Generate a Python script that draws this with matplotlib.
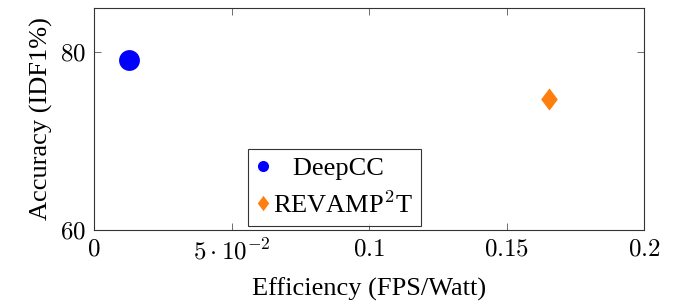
import matplotlib
matplotlib.use("Agg")
import matplotlib.pyplot as plt
from matplotlib.lines import Line2D
from matplotlib.path import Path

# data
methods = ["   DeepCC", "REVAMP$^{2}$T"]
efficiency = [0.0127, 0.1656]   # FPS/Watt
accuracy = [79.2, 74.8]         # IDF1 %
colors = ["#0000ff", "#ff7f0e"]

xticks = [0, 0.05, 0.1, 0.15, 0.2]
xtick_labels = ["$0$", r"$5\cdot10^{-2}$", "$0.1$", "$0.15$", "$0.2$"]
yticks = [60, 80]
ytick_labels = ["$60$", "$80$"]

plt.rcParams["font.family"] = ["Liberation Serif", "DejaVu Serif"]
plt.rcParams["mathtext.fontset"] = "cm"

diamond = Path([(0, 1), (0.75, 0), (0, -1), (-0.75, 0), (0, 1)],
               [Path.MOVETO, Path.LINETO, Path.LINETO, Path.LINETO, Path.CLOSEPOLY])
markers = ["o", diamond]
sizes = [15, 16]
legend_sizes = [8, 11]

fig = plt.figure(figsize=(6.75, 3.08), dpi=100)
ax = fig.add_axes([0.1393, 0.2532, 0.8148, 0.7208])

for x, y, c, m, s in zip(efficiency, accuracy, colors, markers, sizes):
    ax.plot([x], [y], linestyle="none", marker=m, markersize=s, color=c,
            markeredgewidth=0)

ax.set_xlim(0, 0.2)
ax.set_ylim(60, 85)
ax.set_xticks(xticks)
ax.set_xticklabels(xtick_labels)
ax.set_yticks(yticks)
ax.set_yticklabels(ytick_labels)
ax.tick_params(direction="in", top=True, right=True, length=5, width=0.6,
               color="#555555", labelsize=18, pad=6)
for sp in ax.spines.values():
    sp.set_linewidth(0.8)
    sp.set_color("#333333")

ax.set_xlabel("Efficiency (FPS/Watt)", fontsize=19, labelpad=10)
ax.set_ylabel("Accuracy (IDF1%)", fontsize=19, labelpad=5)

handles = [Line2D([], [], linestyle="none", marker=m, markersize=s, color=c,
                  markeredgewidth=0)
           for m, s, c in zip(markers, legend_sizes, colors)]
leg = ax.legend(handles, methods, loc="lower left", bbox_to_anchor=(0.28, 0.02),
                fontsize=19, frameon=True, fancybox=False, edgecolor="black",
                handlelength=0.5, handletextpad=0.15, borderpad=0.3,
                labelspacing=0.4, borderaxespad=0)
leg.get_frame().set_linewidth(0.8)

fig.savefig("out.png", dpi=100)
